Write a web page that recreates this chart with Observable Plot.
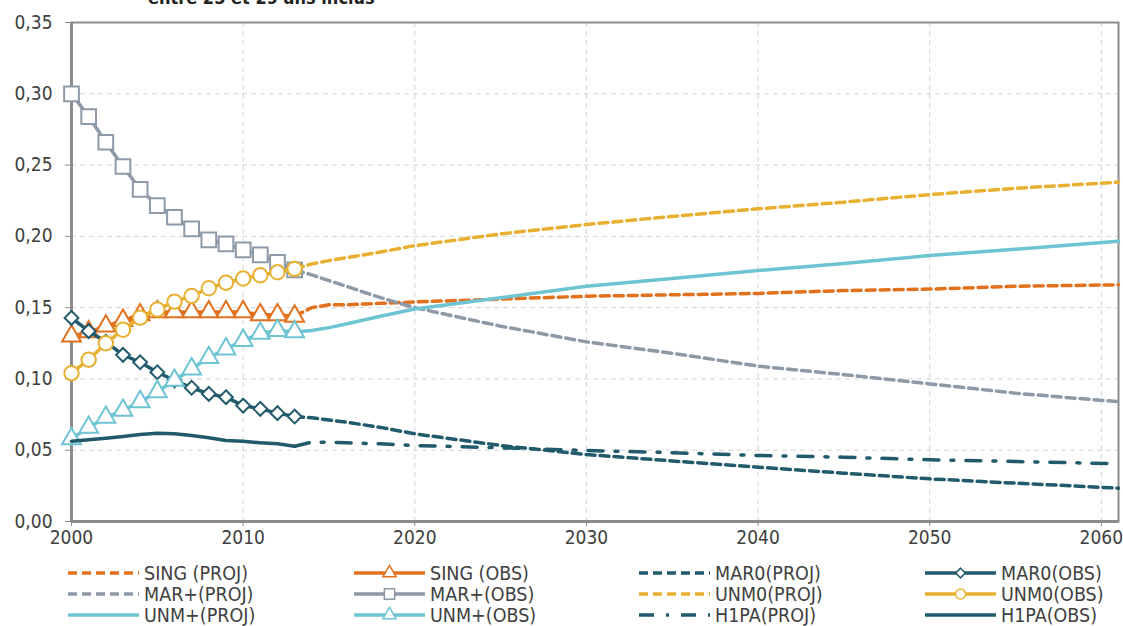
<!DOCTYPE html>
<html>
<head>
<meta charset="utf-8">
<script src="https://cdn.jsdelivr.net/npm/d3@7"></script>
<script src="https://cdn.jsdelivr.net/npm/@observablehq/plot@0.6"></script>
<style>
  html, body { margin: 0; padding: 0; background: #fff; }
  #wrap { position: relative; width: 1123px; height: 626px; overflow: hidden;
          font-family: "DejaVu Sans Condensed", "DejaVu Sans", sans-serif; font-stretch: condensed; color: #404040; }
  #title { position: absolute; left: 148px; top: -13px; font-size: 18px; line-height: 21px; font-weight: bold; color: #222; white-space: nowrap; }
  #chart { position: absolute; left: 0; top: 0; }
  .leg { position: absolute; display: flex; align-items: center; font-size: 19.5px; color: #404040; white-space: nowrap; }
  .leg svg { margin-right: 5px; }
</style>
</head>
<body>
<div id="wrap">
  <div id="chart"></div>
  <div id="title">entre 25 et 29 ans inclus</div>
  <div id="legend"></div>
</div>
<script>
// ---- data ----
const obsYears = [2000, 2001, 2002, 2003, 2004, 2005, 2006, 2007, 2008, 2009, 2010, 2011, 2012, 2013];
const projYears = [2013, 2014, 2015, 2016, 2018, 2020, 2025, 2030, 2035, 2040, 2045, 2050, 2055, 2061];

const singObs = [0.130, 0.133, 0.137, 0.141, 0.145, 0.147, 0.147, 0.147, 0.147, 0.147, 0.147, 0.145, 0.145, 0.144];
const mar0Obs = [0.1428, 0.1335, 0.126, 0.1169, 0.1117, 0.1047, 0.099, 0.0938, 0.0895, 0.0872, 0.0813, 0.079, 0.076, 0.0736];
const marpObs = [0.300, 0.284, 0.266, 0.249, 0.233, 0.2216, 0.2134, 0.2053, 0.1975, 0.1947, 0.1905, 0.187, 0.1818, 0.1765];
const unm0Obs = [0.104, 0.1135, 0.125, 0.1345, 0.1430, 0.1487, 0.1542, 0.1582, 0.1636, 0.1675, 0.1704, 0.1727, 0.1748, 0.1772];
const unmpObs = [0.058, 0.066, 0.073, 0.078, 0.084, 0.091, 0.099, 0.107, 0.115, 0.121, 0.127, 0.132, 0.134, 0.133];
const h1paObs = [0.0563, 0.0573, 0.0584, 0.0596, 0.0610, 0.0619, 0.0615, 0.0603, 0.0587, 0.0568, 0.0563, 0.0552, 0.0545, 0.0528];

const singProj = [0.144, 0.150, 0.152, 0.152, 0.153, 0.154, 0.156, 0.158, 0.159, 0.160, 0.162, 0.163, 0.165, 0.166];
const mar0Proj = [0.0736, 0.0727, 0.0712, 0.0697, 0.066, 0.0615, 0.0533, 0.047, 0.0425, 0.0381, 0.0339, 0.0299, 0.0269, 0.0234];
const marpProj = [0.1765, 0.173, 0.169, 0.165, 0.157, 0.150, 0.137, 0.126, 0.118, 0.109, 0.103, 0.0965, 0.090, 0.084];
const unm0Proj = [0.1772, 0.1807, 0.183, 0.185, 0.189, 0.1935, 0.2017, 0.2083, 0.214, 0.2193, 0.224, 0.2293, 0.2337, 0.238];
const unmpProj = [0.133, 0.134, 0.136, 0.1385, 0.144, 0.149, 0.157, 0.165, 0.1705, 0.176, 0.181, 0.1865, 0.191, 0.1966];
const h1paProj = [0.0528, 0.0556, 0.0556, 0.0552, 0.0545, 0.0533, 0.0517, 0.0498, 0.0483, 0.0463, 0.0451, 0.0433, 0.0421, 0.0405];

const xTicks = [2000, 2010, 2020, 2030, 2040, 2050, 2060];
const yTicks = [0, 0.05, 0.10, 0.15, 0.20, 0.25, 0.30, 0.35];

const legendLabels = ["SING (PROJ)", "SING (OBS)", "MAR0(PROJ)", "MAR0(OBS)",
                      "MAR+(PROJ)", "MAR+(OBS)", "UNM0(PROJ)", "UNM0(OBS)",
                      "UNM+(PROJ)", "UNM+(OBS)", "H1PA(PROJ)", "H1PA(OBS)"];

// ---- styles ----
const C = { sing: "#E2711D", mar0: "#215A6B", marp: "#8E99A8", unm0: "#E8B030", unmp: "#6EC4D3", h1pa: "#215A6B" };
const DASH = "9,5";
const DASHDOT = "15,12,3,12";
const LW = 3.5;

const rows = (xs, ys) => xs.map((x, i) => ({ x, y: ys[i] }));

const series = [
  { key: "sing", kind: "proj", xs: projYears, ys: singProj, dash: DASH },
  { key: "sing", kind: "obs", xs: obsYears, ys: singObs, symbol: "triangle", r: 7 },
  { key: "mar0", kind: "proj", xs: projYears, ys: mar0Proj, dash: DASH },
  { key: "mar0", kind: "obs", xs: obsYears, ys: mar0Obs, symbol: "diamond2", r: 6.2 },
  { key: "marp", kind: "proj", xs: projYears, ys: marpProj, dash: DASH },
  { key: "marp", kind: "obs", xs: obsYears, ys: marpObs, symbol: "square", r: 8.3 },
  { key: "unm0", kind: "proj", xs: projYears, ys: unm0Proj, dash: DASH },
  { key: "unm0", kind: "obs", xs: obsYears, ys: unm0Obs, symbol: "circle", r: 7.2 },
  { key: "unmp", kind: "proj", xs: projYears, ys: unmpProj, dash: null },
  { key: "unmp", kind: "obs", xs: obsYears, ys: unmpObs, symbol: "triangle", r: 7 },
  { key: "h1pa", kind: "proj", xs: projYears, ys: h1paProj, dash: DASHDOT },
  { key: "h1pa", kind: "obs", xs: obsYears, ys: h1paObs, symbol: null }
];

const marks = [
  Plot.gridY(yTicks, { stroke: "#d4d4d4", strokeOpacity: 1, strokeWidth: 1, strokeDasharray: "5,4" }),
  Plot.gridX(xTicks, { stroke: "#d4d4d4", strokeOpacity: 1, strokeWidth: 1, strokeDasharray: "5,4" }),
  Plot.frame({ stroke: "#8c8c8c", strokeWidth: 2 }),
  Plot.ruleX([2000], { stroke: "#8c8c8c", strokeWidth: 3 }),
  Plot.ruleY([0], { stroke: "#8c8c8c", strokeWidth: 3 }),
  Plot.axisY({ ticks: yTicks, tickFormat: d => d.toFixed(2).replace(".", ","), tickSize: 6, tickPadding: 13,
               fontSize: 19, stroke: "#8c8c8c", fill: "#404040", label: null }),
  Plot.axisX({ ticks: xTicks, tickFormat: d => String(d), tickSize: 5, tickPadding: 4,
               fontSize: 19, stroke: "#8c8c8c", fill: "#404040", label: null })
];

for (const s of series) {
  const data = rows(s.xs, s.ys);
  marks.push(Plot.line(data, { x: "x", y: "y", stroke: C[s.key], strokeWidth: LW,
    strokeDasharray: s.dash || undefined, strokeLinejoin: "round" }));
  if (s.symbol) {
    marks.push(Plot.dot(data, { x: "x", y: "y", symbol: s.symbol, r: s.r, stroke: C[s.key],
      fill: "white", strokeWidth: 2 }));
  }
}

const chart = Plot.plot({
  width: 1123, height: 556,
  marginLeft: 71, marginRight: 5, marginTop: 22, marginBottom: 35,
  x: { domain: [2000, 2061] },
  y: { domain: [0, 0.35] },
  style: { fontFamily: '"DejaVu Sans Condensed", "DejaVu Sans", sans-serif', fontStretch: "condensed", color: "#404040", background: "transparent" },
  marks
});
document.getElementById("chart").appendChild(chart);

// ---- legend ----
const legend = document.getElementById("legend");
const colX = [68, 354, 639, 925];
const rowY = [573, 594, 615];
const NS = "http://www.w3.org/2000/svg";
series.forEach((s, i) => {
  const col = i % 4, row = Math.floor(i / 4);
  const item = document.createElement("div");
  item.className = "leg";
  item.style.left = colX[col] + "px";
  item.style.top = (rowY[row] - 11) + "px";
  item.style.height = "22px";
  const svg = document.createElementNS(NS, "svg");
  svg.setAttribute("width", 71); svg.setAttribute("height", 22);
  const ln = document.createElementNS(NS, "line");
  ln.setAttribute("x1", 0); ln.setAttribute("x2", 71); ln.setAttribute("y1", 11); ln.setAttribute("y2", 11);
  ln.setAttribute("stroke", C[s.key]); ln.setAttribute("stroke-width", LW);
  if (s.dash) ln.setAttribute("stroke-dasharray", s.dash);
  svg.appendChild(ln);
  if (s.symbol) {
    const sym = { triangle: d3.symbolTriangle, "diamond2": d3.symbolDiamond2, square: d3.symbolSquare, circle: d3.symbolCircle }[s.symbol];
    const rr = s.r * 0.7;
    const p = document.createElementNS(NS, "path");
    p.setAttribute("d", d3.symbol(sym, Math.PI * rr * rr)());
    p.setAttribute("transform", "translate(35.5,11)");
    p.setAttribute("fill", "white"); p.setAttribute("stroke", C[s.key]); p.setAttribute("stroke-width", 1.5);
    svg.appendChild(p);
  }
  item.appendChild(svg);
  const t = document.createElement("span");
  t.textContent = legendLabels[i];
  item.appendChild(t);
  legend.appendChild(item);
});
</script>
</body>
</html>
